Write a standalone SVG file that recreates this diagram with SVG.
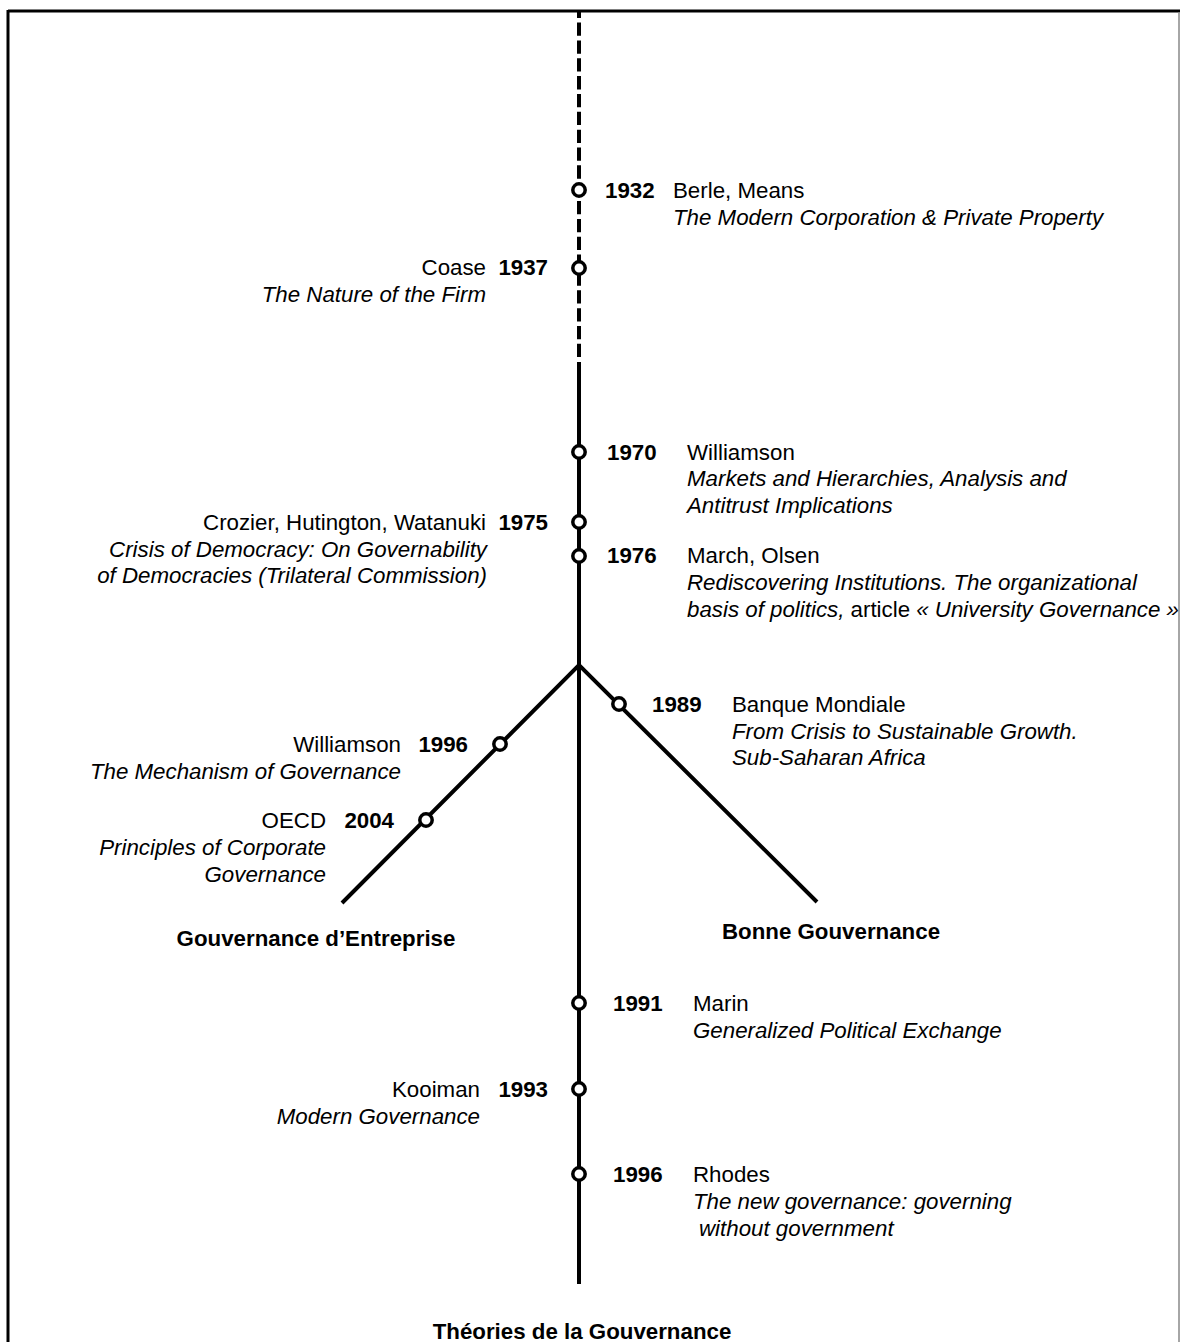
<svg xmlns="http://www.w3.org/2000/svg" width="1180" height="1342" viewBox="0 0 1180 1342">
<style>
text{font-family:"Liberation Sans",Arial,sans-serif;font-size:22.3px;fill:#000}
.y{font-weight:bold}
.i{font-style:italic}
.b{font-weight:bold}
.e{text-anchor:end}
.c{text-anchor:middle}
.ln{stroke:#000;stroke-width:4;fill:none}
.n{fill:#fff;stroke:#000;stroke-width:3.5}
</style>
<rect width="1180" height="1342" fill="#fff"/>
<g id="frame">
<line x1="8" y1="11" x2="1180" y2="11" stroke="#000" stroke-width="3"/>
<line x1="8" y1="10" x2="8" y2="1342" stroke="#000" stroke-width="3"/>
<line x1="1179" y1="12" x2="1179" y2="1342" stroke="#888" stroke-width="1.5"/>
</g>
<g id="connectors">
<line class="ln" x1="579" y1="12" x2="579" y2="357" stroke-dasharray="13.3 4.55" stroke-dashoffset="7.3"/>
<line class="ln" x1="579" y1="362" x2="579" y2="1284"/>
<polyline class="ln" points="342,903 579,665 817,902"/>
</g>
<g id="n1932"><circle class="n" cx="579" cy="190" r="6.2"/><text class="y" x="605" y="198">1932</text><text x="673" y="198">Berle, Means</text><text class="i" x="673" y="225">The Modern Corporation &amp; Private Property</text></g>
<g id="n1937"><circle class="n" cx="579" cy="268" r="6.2"/><text class="y e" x="548" y="275">1937</text><text class="e" x="486" y="275">Coase</text><text class="i e" x="486" y="302">The Nature of the Firm</text></g>
<g id="n1970"><circle class="n" cx="579" cy="452" r="6.2"/><text class="y" x="607" y="460">1970</text><text x="687" y="460">Williamson</text><text class="i" x="687" y="486">Markets and Hierarchies, Analysis and</text><text class="i" x="687" y="513">Antitrust Implications</text></g>
<g id="n1975"><circle class="n" cx="579" cy="522" r="6.2"/><text class="y e" x="548" y="530">1975</text><text class="e" x="486" y="530">Crozier, Hutington, Watanuki</text><text class="i e" x="487" y="557">Crisis of Democracy: On Governability</text><text class="i e" x="487" y="583">of Democracies (Trilateral Commission)</text></g>
<g id="n1976"><circle class="n" cx="579" cy="556" r="6.2"/><text class="y" x="607" y="563">1976</text><text x="687" y="563">March, Olsen</text><text class="i" x="687" y="590">Rediscovering Institutions. The organizational</text><text x="687" y="617"><tspan class="i">basis of politics,</tspan> article <tspan class="i">« University Governance »</tspan></text></g>
<g id="n1989"><circle class="n" cx="619" cy="704" r="6.2"/><text class="y" x="652" y="712">1989</text><text x="732" y="712">Banque Mondiale</text><text class="i" x="732" y="739">From Crisis to Sustainable Growth.</text><text class="i" x="732" y="765">Sub-Saharan Africa</text></g>
<g id="n1996a"><circle class="n" cx="500" cy="744" r="6.2"/><text class="y e" x="468" y="752">1996</text><text class="e" x="401" y="752">Williamson</text><text class="i e" x="401" y="779">The Mechanism of Governance</text></g>
<g id="n2004"><circle class="n" cx="426" cy="820" r="6.2"/><text class="y e" x="394" y="828">2004</text><text class="e" x="326" y="828">OECD</text><text class="i e" x="326" y="855">Principles of Corporate</text><text class="i e" x="326" y="882">Governance</text></g>
<g id="lblGE"><text class="b c" x="316" y="946">Gouvernance d’Entreprise</text></g>
<g id="lblBG"><text class="b c" x="831" y="939">Bonne Gouvernance</text></g>
<g id="n1991"><circle class="n" cx="579" cy="1003" r="6.2"/><text class="y" x="613" y="1011">1991</text><text x="693" y="1011">Marin</text><text class="i" x="693" y="1038">Generalized Political Exchange</text></g>
<g id="n1993"><circle class="n" cx="579" cy="1089" r="6.2"/><text class="y e" x="548" y="1097">1993</text><text class="e" x="480" y="1097">Kooiman</text><text class="i e" x="480" y="1124">Modern Governance</text></g>
<g id="n1996b"><circle class="n" cx="579" cy="1174" r="6.2"/><text class="y" x="613" y="1182">1996</text><text x="693" y="1182">Rhodes</text><text class="i" x="693" y="1209">The new governance: governing</text><text class="i" x="699" y="1236">without government</text></g>
<g id="title"><text class="b c" x="582" y="1339">Théories de la Gouvernance</text></g>
</svg>
